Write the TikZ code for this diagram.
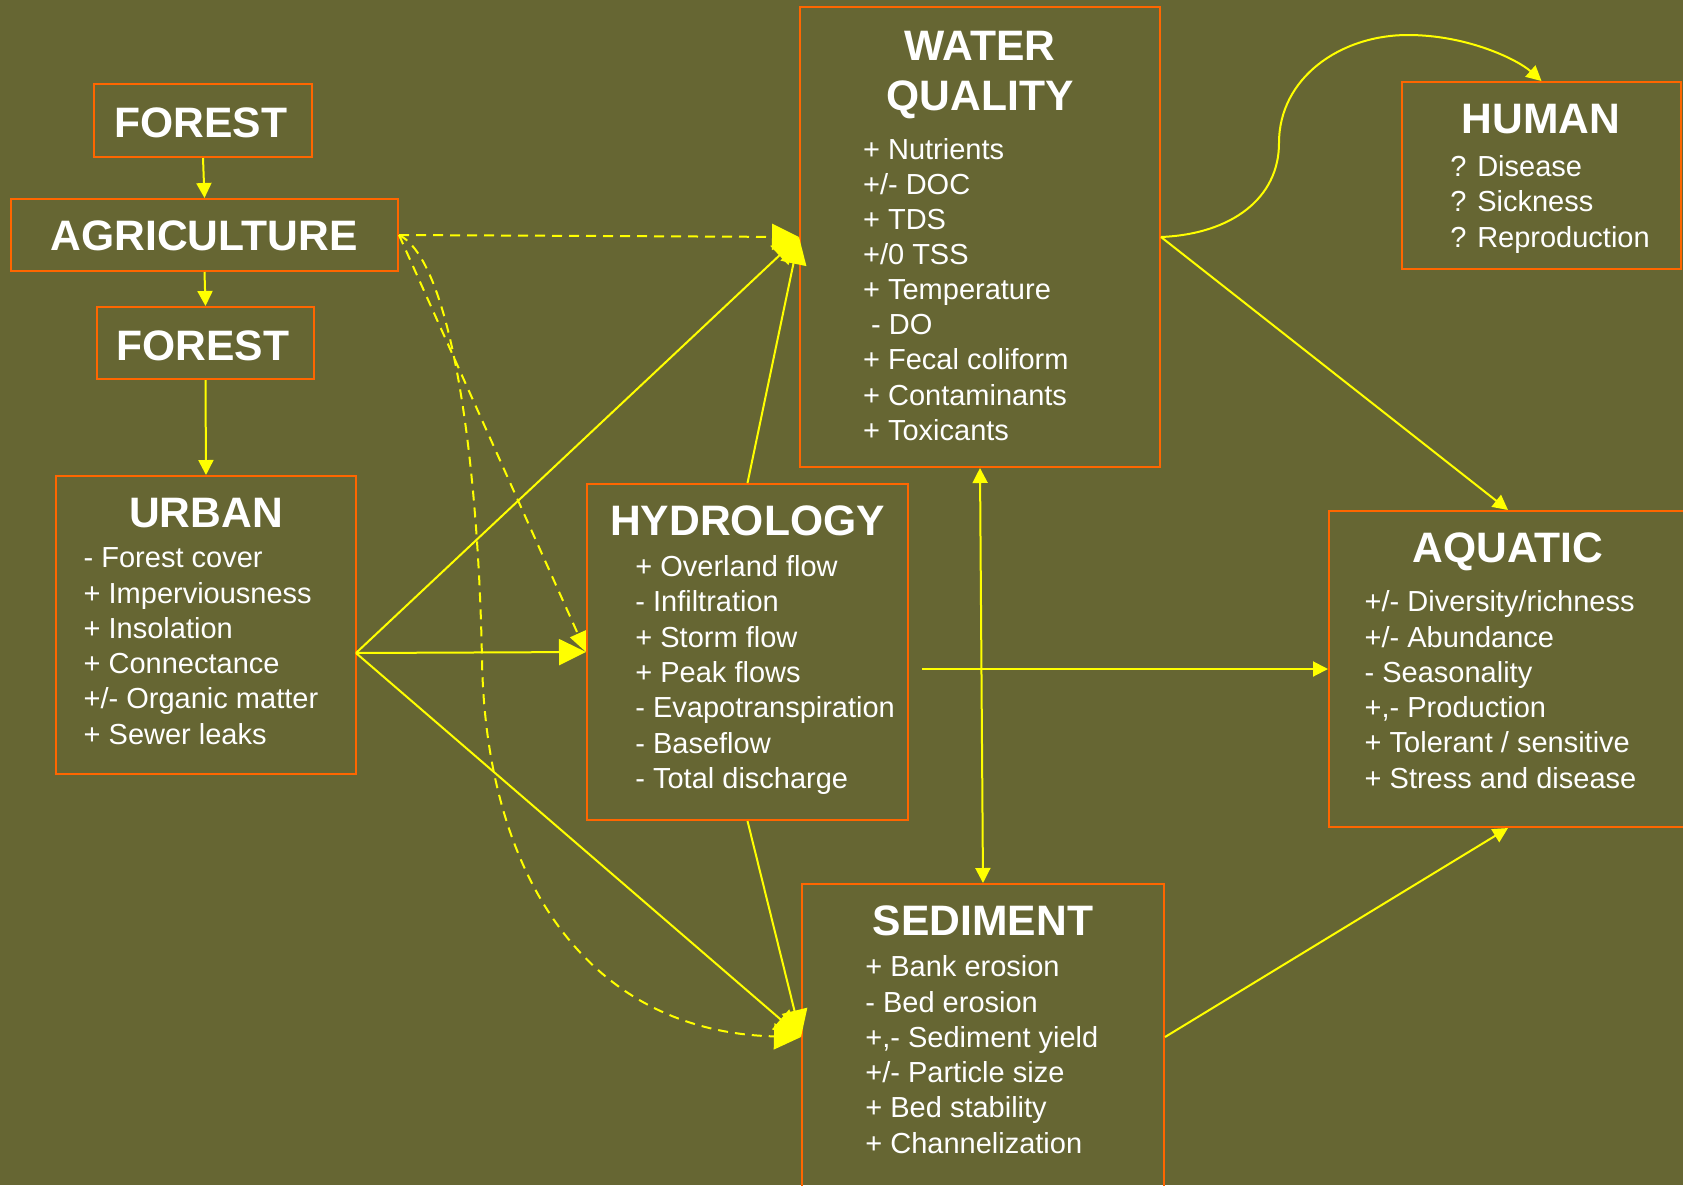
\documentclass[tikz,border=0pt]{standalone}
\usepackage{fontspec}
\setmainfont{Liberation Sans}
\usetikzlibrary{arrows.meta,fit}
\definecolor{bgolive}{RGB}{102,102,51}
\definecolor{boxorange}{RGB}{255,102,0}
\definecolor{linkyellow}{RGB}{255,255,0}

\begin{document}
\begin{tikzpicture}[x=0.5pt,y=-0.5pt,
  box/.style={draw=boxorange, line width=1pt, inner sep=0pt},
  title/.style={text=white, font=\fontsize{21.3}{25}\selectfont\bfseries, inner sep=0pt, anchor=base},
  item/.style={text=white, font=\fontsize{14.5}{17}\selectfont, inner sep=0pt, anchor=base west},
  link/.style={draw=linkyellow, line width=1pt},
  dashlink/.style={link, dash pattern=on 5pt off 3.5pt},
  tipS/.style={-{Triangle[length=7.5pt,width=7.5pt]}},
  tipM/.style={-{Triangle[length=10pt,width=8.5pt]}},
  tipL/.style={-{Triangle[length=13.5pt,width=13pt]}},
  tipBoth/.style={{Triangle[length=7.5pt,width=7.5pt]}-{Triangle[length=7.5pt,width=7.5pt]}},
]
% canvas
\useasboundingbox (0,0) rectangle (1683,1185);
\fill[bgolive] (0,0) rectangle (1683,1185);

% boxes
\node[box, fit={(94,84) (312,157)}] (forestA) {};
\node[box, fit={(11,199) (398,271)}] (agri) {};
\node[box, fit={(97,307) (314,379)}] (forestB) {};
\node[box, fit={(56,476) (356,774)}] (urban) {};
\node[box, fit={(587,484) (908,820)}] (hydro) {};
\node[box, fit={(800,7) (1160,467)}] (wq) {};
\node[box, fit={(1402,82) (1681,269)}] (human) {};
\node[box, fit={(1329,511) (1687,827)}] (aquatic) {};
\node[box, fit={(802,884) (1164,1190)}] (sed) {};

% titles
\node[title] (tForestA) at (201,137) {FOREST};
\node[title] (tAgri) at (204,250) {AGRICULTURE};
\node[title] (tForestB) at (203,360) {FOREST};
\node[title] (tUrban) at (206,527) {URBAN};
\node[title] (tHydro) at (747.5,535) {HYDROLOGY};
\node[title] (tWqA) at (980,60) {WATER};
\node[title] (tWqB) at (980,110) {QUALITY};
\node[title] (tHuman) at (1541,133) {HUMAN};
\node[title] (tAquatic) at (1508,562) {AQUATIC};
\node[title] (tSed) at (983,935) {SEDIMENT};

% item lists
\foreach \t [count=\i] in {+ Nutrients, +/- DOC, + TDS, +/0 TSS, + Temperature, {\ - DO}, + Fecal coliform, + Contaminants, + Toxicants}
  \node[item] (wq\i) at (862.7,{159.3+(\i-1)*35.1}) {\t};
\foreach \t [count=\i] in {? Disease, ? Sickness, ? Reproduction}
  \node[item] (human\i) at (1450,{176+(\i-1)*35.6}) {\t};
\foreach \t [count=\i] in {- Forest cover, + Imperviousness, + Insolation, + Connectance, +/- Organic matter, + Sewer leaks}
  \node[item] (urban\i) at (83.3,{567.7+(\i-1)*35.3}) {\t};
\foreach \t [count=\i] in {+ Overland flow, - Infiltration, + Storm flow, + Peak flows, - Evapotranspiration, - Baseflow, - Total discharge}
  \node[item] (hydro\i) at (635,{576.7+(\i-1)*35.27}) {\t};
\foreach \t [count=\i] in {+/- Diversity/richness, +/- Abundance, - Seasonality, {+,- Production}, + Tolerant / sensitive, + Stress and disease}
  \node[item] (aquatic\i) at (1364.3,{611.7+(\i-1)*35.3}) {\t};
\foreach \t [count=\i] in {+ Bank erosion, - Bed erosion, {+,- Sediment yield}, +/- Particle size, + Bed stability, + Channelization}
  \node[item] (sed\i) at (865,{976.7+(\i-1)*35.3}) {\t};

% land-use chain
\draw[link,tipS] (forestA.south) -- (agri.north);
\draw[link,tipS] (agri.south) -- (forestB.north);
\draw[link,tipS] (forestB.south) -- (urban.north);

% urban effects
\coordinate (uout) at (356,653);
\draw[link,tipL] (uout) -- (wq.west);
\draw[link,tipL] (uout) -- (hydro.west);
\draw[link,tipL] (uout) -- (sed.west);

% hydrology effects
\draw[link,tipL] (hydro.north) -- (wq.west);
\draw[link,tipL] (hydro.south) -- (sed.west);
\coordinate (hout) at (922,669);
\draw[link,tipS] (hout) -- (aquatic.west);

% agriculture effects (dashed)
\draw[dashlink,tipL] (agri.east) -- (wq.west);
\draw[dashlink,tipM] (agri.east) -- (hydro.west);
\draw[dashlink,tipL] (agri.east) .. controls (450,260) and (478,450) .. (482,660)
  .. controls (486,880) and (590,1032) .. (sed.west);

% water quality and sediment
\draw[link,tipBoth] (wq.south) -- (sed.north);
\draw[link,tipS] (wq.east) -- (aquatic.north);
\draw[link,tipS] (wq.east) .. controls (1232,234) and (1279,198) .. (1279,143)
  .. controls (1279,78) and (1340,35) .. (1408,35)
  .. controls (1468,35) and (1518,60) .. (human.north);
\draw[link,tipS] (sed.east) -- (aquatic.south);
\end{tikzpicture}
\end{document}
